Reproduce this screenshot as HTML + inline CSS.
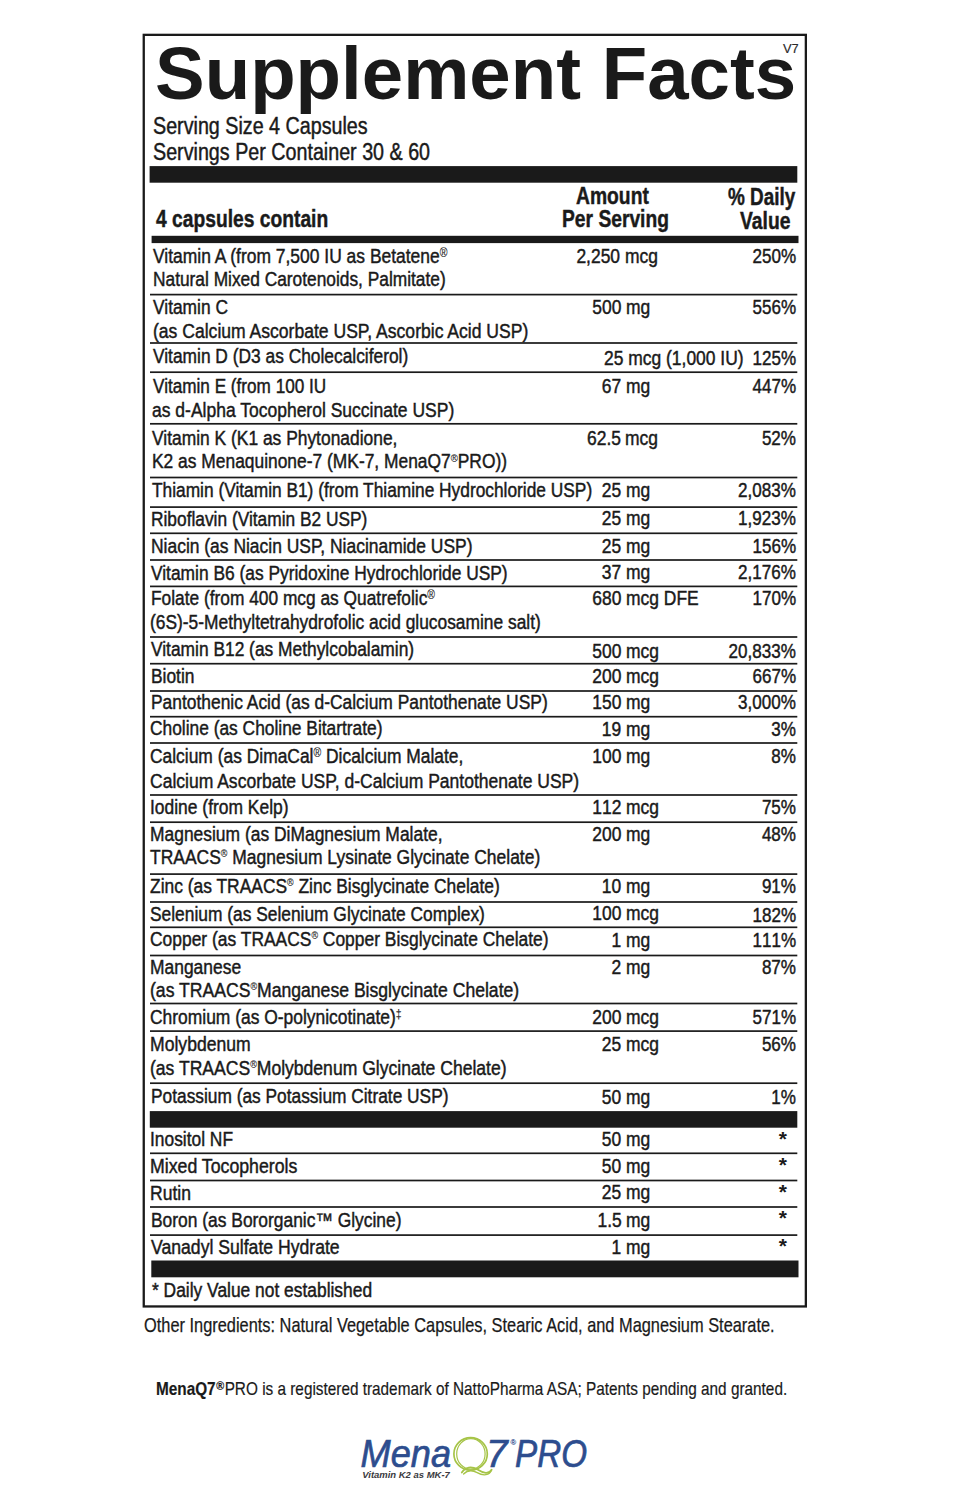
<!DOCTYPE html>
<html lang="en"><head><meta charset="utf-8"><title>Supplement Facts</title>
<style>
html,body{margin:0;padding:0;background:#fff;}
body{width:956px;height:1500px;position:relative;overflow:hidden;font-family:"Liberation Sans",sans-serif;color:#1a1a1a;}
.t{position:absolute;white-space:pre;line-height:1;margin:0;padding:0;}
.l{transform-origin:0 0;}
.rt{transform-origin:100% 0;}
.k{position:absolute;background:#1a1a1a;}
svg.lines{position:absolute;left:0;top:0;}
sup.r{font-size:.6em;line-height:0;vertical-align:baseline;position:relative;top:-.47em;-webkit-text-stroke:.12px #1a1a1a;}
sup.s{font-size:.51em;top:-.66em;}
sup.q{font-size:.55em;top:-.56em;}
sup.r2{font-size:.7em;line-height:0;vertical-align:baseline;position:relative;top:-.36em;font-weight:bold;margin:0 .04em 0 .06em;}
.b{font-size:20.0px;font-weight:normal;-webkit-text-stroke:0.45px #1a1a1a;}
.d{font-size:20.0px;font-weight:normal;-webkit-text-stroke:0.45px #1a1a1a;}
.a{font-size:21.0px;font-weight:bold;}
.h{font-size:24.5px;font-weight:bold;-webkit-text-stroke:0.45px #1a1a1a;}
.s{font-size:23.0px;font-weight:normal;-webkit-text-stroke:0.45px #1a1a1a;}
.T{font-size:75.0px;font-weight:bold;}
.v{font-size:12.0px;font-weight:normal;}
.o{font-size:20.4px;font-weight:normal;-webkit-text-stroke:0.25px #1a1a1a;}
.m{font-size:19.0px;font-weight:normal;-webkit-text-stroke:0.2px #1a1a1a;}
.d,.nk{font-kerning:none;}
</style></head>
<body>
<svg class="lines" width="956" height="1500" viewBox="0 0 956 1500">
<rect x="143.75" y="34.85" width="662.10" height="1271.60" fill="none" stroke="#1a1a1a" stroke-width="2.3"/>
<rect x="149.60" y="166.10" width="647.70" height="16.60" fill="#1a1a1a"/>
<rect x="151.60" y="235.80" width="646.90" height="7.30" fill="#1a1a1a"/>
<rect x="149.80" y="1111.10" width="647.50" height="16.60" fill="#1a1a1a"/>
<rect x="151.30" y="1260.50" width="647.20" height="16.80" fill="#1a1a1a"/>
<rect x="150.00" y="293.75" width="647.30" height="1.70" fill="#1a1a1a"/>
<rect x="150.00" y="342.15" width="647.30" height="1.70" fill="#1a1a1a"/>
<rect x="150.00" y="371.35" width="647.30" height="1.70" fill="#1a1a1a"/>
<rect x="150.00" y="422.95" width="647.30" height="1.70" fill="#1a1a1a"/>
<rect x="150.00" y="476.65" width="647.30" height="1.70" fill="#1a1a1a"/>
<rect x="150.00" y="506.25" width="647.30" height="1.70" fill="#1a1a1a"/>
<rect x="150.00" y="532.45" width="647.30" height="1.70" fill="#1a1a1a"/>
<rect x="150.00" y="559.15" width="647.30" height="1.70" fill="#1a1a1a"/>
<rect x="150.00" y="585.55" width="647.30" height="1.70" fill="#1a1a1a"/>
<rect x="150.00" y="636.15" width="647.30" height="1.70" fill="#1a1a1a"/>
<rect x="150.00" y="662.85" width="647.30" height="1.70" fill="#1a1a1a"/>
<rect x="150.00" y="690.15" width="647.30" height="1.70" fill="#1a1a1a"/>
<rect x="150.00" y="715.85" width="647.30" height="1.70" fill="#1a1a1a"/>
<rect x="150.00" y="742.15" width="647.30" height="1.70" fill="#1a1a1a"/>
<rect x="150.00" y="794.15" width="647.30" height="1.70" fill="#1a1a1a"/>
<rect x="150.00" y="821.35" width="647.30" height="1.70" fill="#1a1a1a"/>
<rect x="150.00" y="873.25" width="647.30" height="1.70" fill="#1a1a1a"/>
<rect x="150.00" y="901.15" width="647.30" height="1.70" fill="#1a1a1a"/>
<rect x="150.00" y="926.45" width="647.30" height="1.70" fill="#1a1a1a"/>
<rect x="150.00" y="954.65" width="647.30" height="1.70" fill="#1a1a1a"/>
<rect x="150.00" y="1002.65" width="647.30" height="1.70" fill="#1a1a1a"/>
<rect x="150.00" y="1030.25" width="647.30" height="1.70" fill="#1a1a1a"/>
<rect x="150.00" y="1082.35" width="647.30" height="1.70" fill="#1a1a1a"/>
<rect x="150.00" y="1152.45" width="647.30" height="1.70" fill="#1a1a1a"/>
<rect x="150.00" y="1179.65" width="647.30" height="1.70" fill="#1a1a1a"/>
<rect x="150.00" y="1206.15" width="647.30" height="1.70" fill="#1a1a1a"/>
<rect x="150.00" y="1234.25" width="647.30" height="1.70" fill="#1a1a1a"/>
</svg>
<span class="t l T" style="left:154.6px;top:36px;transform:scaleX(0.9926);">Supplement Facts</span>
<span class="t l v" style="left:783.0px;top:43px;transform:scaleX(1.07);color:#2a2a2a;-webkit-text-stroke:.15px #2a2a2a;">V7</span>
<span class="t l s" style="left:153.2px;top:115px;transform:scaleX(0.8565);">Serving Size 4 Capsules</span>
<span class="t l s" style="left:153.2px;top:141px;transform:scaleX(0.8566);">Servings Per Container 30 &amp; 60</span>
<span class="t l h" style="left:156.0px;top:207px;transform:scaleX(0.7856);">4 capsules contain</span>
<span class="t l h" style="left:575.9px;top:184px;transform:scaleX(0.7871);">Amount</span>
<span class="t l h" style="left:561.9px;top:207px;transform:scaleX(0.7855);">Per Serving</span>
<span class="t l h" style="left:727.6px;top:185px;transform:scaleX(0.7721);">% Daily</span>
<span class="t l h" style="left:740.3px;top:209px;transform:scaleX(0.788);">Value</span>
<span class="t l b" style="left:152.7px;top:246px;transform:scaleX(0.8723);">Vitamin A (from 7,500 IU as Betatene<sup class="r">&reg;</sup></span>
<span class="t l b" style="left:153.1px;top:269px;transform:scaleX(0.8661);">Natural Mixed Carotenoids, Palmitate)</span>
<span class="t rt b" style="right:335.7px;top:246px;transform:scaleX(0.872);font-kerning:none;">2,250</span>
<span class="t l b" style="left:624.6px;top:246px;transform:scaleX(0.872);">mcg</span>
<span class="t rt d" style="right:159.9px;top:246px;transform:scaleX(0.853);">250%</span>
<span class="t l b" style="left:152.7px;top:297px;transform:scaleX(0.8683);">Vitamin C</span>
<span class="t l b" style="left:152.7px;top:321px;transform:scaleX(0.8777);">(as Calcium Ascorbate USP, Ascorbic Acid USP)</span>
<span class="t rt b" style="right:334.4px;top:297px;transform:scaleX(0.872);font-kerning:none;">500</span>
<span class="t l b" style="left:625.9px;top:297px;transform:scaleX(0.872);">mg</span>
<span class="t rt d" style="right:159.9px;top:297px;transform:scaleX(0.853);">556%</span>
<span class="t l b" style="left:152.7px;top:346px;transform:scaleX(0.8676);">Vitamin D (D3 as Cholecalciferol)</span>
<span class="t l b" style="left:603.7px;top:348px;transform:scaleX(0.872);">25 mcg (1,000 IU)</span>
<span class="t rt d" style="right:159.9px;top:348px;transform:scaleX(0.853);">125%</span>
<span class="t l b" style="left:152.7px;top:376px;transform:scaleX(0.8578);">Vitamin E (from 100 IU</span>
<span class="t l b" style="left:152.4px;top:400px;transform:scaleX(0.875);">as d-Alpha Tocopherol Succinate USP)</span>
<span class="t rt b" style="right:334.4px;top:376px;transform:scaleX(0.872);font-kerning:none;">67</span>
<span class="t l b" style="left:625.9px;top:376px;transform:scaleX(0.872);">mg</span>
<span class="t rt d" style="right:159.9px;top:376px;transform:scaleX(0.853);">447%</span>
<span class="t l b" style="left:152.2px;top:428px;transform:scaleX(0.8702);">Vitamin K (K1 as Phytonadione,</span>
<span class="t l b" style="left:152.4px;top:451px;transform:scaleX(0.8696);">K2 as Menaquinone-7 (MK-7, MenaQ7<sup class="r q">&reg;</sup>PRO))</span>
<span class="t rt b" style="right:335.1px;top:428px;transform:scaleX(0.872);font-kerning:none;">62.5</span>
<span class="t l b" style="left:625.2px;top:428px;transform:scaleX(0.872);">mcg</span>
<span class="t rt d" style="right:159.9px;top:428px;transform:scaleX(0.853);">52%</span>
<span class="t l b" style="left:151.6px;top:480px;transform:scaleX(0.8659);">Thiamin (Vitamin B1) (from Thiamine Hydrochloride USP)</span>
<span class="t rt b" style="right:334.4px;top:480px;transform:scaleX(0.872);font-kerning:none;">25</span>
<span class="t l b" style="left:625.9px;top:480px;transform:scaleX(0.872);">mg</span>
<span class="t rt d" style="right:159.9px;top:480px;transform:scaleX(0.853);">2,083%</span>
<span class="t l b" style="left:151.2px;top:509px;transform:scaleX(0.8664);">Riboflavin (Vitamin B2 USP)</span>
<span class="t rt b" style="right:334.4px;top:508px;transform:scaleX(0.872);font-kerning:none;">25</span>
<span class="t l b" style="left:625.9px;top:508px;transform:scaleX(0.872);">mg</span>
<span class="t rt d" style="right:159.9px;top:508px;transform:scaleX(0.853);">1,923%</span>
<span class="t l b" style="left:151.2px;top:536px;transform:scaleX(0.872);">Niacin (as Niacin USP, Niacinamide USP)</span>
<span class="t rt b" style="right:334.4px;top:536px;transform:scaleX(0.872);font-kerning:none;">25</span>
<span class="t l b" style="left:625.9px;top:536px;transform:scaleX(0.872);">mg</span>
<span class="t rt d" style="right:159.9px;top:536px;transform:scaleX(0.853);">156%</span>
<span class="t l b" style="left:151.2px;top:563px;transform:scaleX(0.8679);">Vitamin B6 (as Pyridoxine Hydrochloride USP)</span>
<span class="t rt b" style="right:334.4px;top:562px;transform:scaleX(0.872);font-kerning:none;">37</span>
<span class="t l b" style="left:625.9px;top:562px;transform:scaleX(0.872);">mg</span>
<span class="t rt d" style="right:159.9px;top:562px;transform:scaleX(0.853);">2,176%</span>
<span class="t l b" style="left:151.0px;top:588px;transform:scaleX(0.8663);">Folate (from 400 mcg as Quatrefolic<sup class="r">&reg;</sup></span>
<span class="t l b" style="left:150.1px;top:612px;transform:scaleX(0.868);">(6S)-5-Methyltetrahydrofolic acid glucosamine salt)</span>
<span class="t rt b" style="right:334.4px;top:588px;transform:scaleX(0.872);font-kerning:none;">680</span>
<span class="t l b" style="left:625.9px;top:588px;transform:scaleX(0.872);">mcg DFE</span>
<span class="t rt d" style="right:159.9px;top:588px;transform:scaleX(0.853);">170%</span>
<span class="t l b" style="left:151.3px;top:639px;transform:scaleX(0.8681);">Vitamin B12 (as Methylcobalamin)</span>
<span class="t rt b" style="right:334.4px;top:641px;transform:scaleX(0.872);font-kerning:none;">500</span>
<span class="t l b" style="left:625.9px;top:641px;transform:scaleX(0.872);">mcg</span>
<span class="t rt d" style="right:159.9px;top:641px;transform:scaleX(0.853);">20,833%</span>
<span class="t l b" style="left:150.6px;top:666px;transform:scaleX(0.8685);">Biotin</span>
<span class="t rt b" style="right:334.4px;top:666px;transform:scaleX(0.872);font-kerning:none;">200</span>
<span class="t l b" style="left:625.9px;top:666px;transform:scaleX(0.872);">mcg</span>
<span class="t rt d" style="right:159.9px;top:666px;transform:scaleX(0.853);">667%</span>
<span class="t l b" style="left:150.6px;top:692px;transform:scaleX(0.8703);">Pantothenic Acid (as d-Calcium Pantothenate USP)</span>
<span class="t rt b" style="right:334.4px;top:692px;transform:scaleX(0.872);font-kerning:none;">150</span>
<span class="t l b" style="left:625.9px;top:692px;transform:scaleX(0.872);">mg</span>
<span class="t rt d" style="right:159.9px;top:692px;transform:scaleX(0.853);">3,000%</span>
<span class="t l b" style="left:149.7px;top:718px;transform:scaleX(0.8679);">Choline (as Choline Bitartrate)</span>
<span class="t rt b" style="right:334.4px;top:719px;transform:scaleX(0.872);font-kerning:none;">19</span>
<span class="t l b" style="left:625.9px;top:719px;transform:scaleX(0.872);">mg</span>
<span class="t rt d" style="right:159.9px;top:719px;transform:scaleX(0.853);">3%</span>
<span class="t l b" style="left:149.7px;top:746px;transform:scaleX(0.8703);">Calcium (as DimaCal<sup class="r">&reg;</sup> Dicalcium Malate,</span>
<span class="t l b" style="left:149.7px;top:771px;transform:scaleX(0.876);">Calcium Ascorbate USP, d-Calcium Pantothenate USP)</span>
<span class="t rt b" style="right:334.4px;top:746px;transform:scaleX(0.872);font-kerning:none;">100</span>
<span class="t l b" style="left:625.9px;top:746px;transform:scaleX(0.872);">mg</span>
<span class="t rt d" style="right:159.9px;top:746px;transform:scaleX(0.853);">8%</span>
<span class="t l b" style="left:149.7px;top:797px;transform:scaleX(0.8714);">Iodine (from Kelp)</span>
<span class="t rt b" style="right:334.4px;top:797px;transform:scaleX(0.872);font-kerning:none;">112</span>
<span class="t l b" style="left:625.9px;top:797px;transform:scaleX(0.872);">mcg</span>
<span class="t rt d" style="right:159.9px;top:797px;transform:scaleX(0.853);">75%</span>
<span class="t l b" style="left:150.1px;top:824px;transform:scaleX(0.8714);">Magnesium (as DiMagnesium Malate,</span>
<span class="t l b" style="left:150.1px;top:847px;transform:scaleX(0.8731);">TRAACS<sup class="r s">&reg;</sup> Magnesium Lysinate Glycinate Chelate)</span>
<span class="t rt b" style="right:334.4px;top:824px;transform:scaleX(0.872);font-kerning:none;">200</span>
<span class="t l b" style="left:625.9px;top:824px;transform:scaleX(0.872);">mg</span>
<span class="t rt d" style="right:159.9px;top:824px;transform:scaleX(0.853);">48%</span>
<span class="t l b" style="left:149.8px;top:876px;transform:scaleX(0.8706);">Zinc (as TRAACS<sup class="r s">&reg;</sup> Zinc Bisglycinate Chelate)</span>
<span class="t rt b" style="right:334.4px;top:876px;transform:scaleX(0.872);font-kerning:none;">10</span>
<span class="t l b" style="left:625.9px;top:876px;transform:scaleX(0.872);">mg</span>
<span class="t rt d" style="right:159.9px;top:876px;transform:scaleX(0.853);">91%</span>
<span class="t l b" style="left:149.7px;top:904px;transform:scaleX(0.8682);">Selenium (as Selenium Glycinate Complex)</span>
<span class="t rt b" style="right:334.4px;top:903px;transform:scaleX(0.872);font-kerning:none;">100</span>
<span class="t l b" style="left:625.9px;top:903px;transform:scaleX(0.872);">mcg</span>
<span class="t rt d" style="right:159.9px;top:905px;transform:scaleX(0.853);">182%</span>
<span class="t l b" style="left:149.7px;top:929px;transform:scaleX(0.8714);">Copper (as TRAACS<sup class="r s">&reg;</sup> Copper Bisglycinate Chelate)</span>
<span class="t rt b" style="right:334.4px;top:930px;transform:scaleX(0.872);font-kerning:none;">1</span>
<span class="t l b" style="left:625.9px;top:930px;transform:scaleX(0.872);">mg</span>
<span class="t rt d" style="right:159.9px;top:930px;transform:scaleX(0.853);">111%</span>
<span class="t l b" style="left:150.1px;top:957px;transform:scaleX(0.8714);">Manganese</span>
<span class="t l b" style="left:150.1px;top:980px;transform:scaleX(0.8799);">(as TRAACS<sup class="r s">&reg;</sup>Manganese Bisglycinate Chelate)</span>
<span class="t rt b" style="right:334.4px;top:957px;transform:scaleX(0.872);font-kerning:none;">2</span>
<span class="t l b" style="left:625.9px;top:957px;transform:scaleX(0.872);">mg</span>
<span class="t rt d" style="right:159.9px;top:957px;transform:scaleX(0.853);">87%</span>
<span class="t l b" style="left:150.1px;top:1007px;transform:scaleX(0.8708);">Chromium (as O-polynicotinate)<sup class="r">&Dagger;</sup></span>
<span class="t rt b" style="right:334.4px;top:1007px;transform:scaleX(0.872);font-kerning:none;">200</span>
<span class="t l b" style="left:625.9px;top:1007px;transform:scaleX(0.872);">mcg</span>
<span class="t rt d" style="right:159.9px;top:1007px;transform:scaleX(0.853);">571%</span>
<span class="t l b" style="left:150.3px;top:1034px;transform:scaleX(0.8792);">Molybdenum</span>
<span class="t l b" style="left:150.3px;top:1058px;transform:scaleX(0.8778);">(as TRAACS<sup class="r s">&reg;</sup>Molybdenum Glycinate Chelate)</span>
<span class="t rt b" style="right:334.4px;top:1034px;transform:scaleX(0.872);font-kerning:none;">25</span>
<span class="t l b" style="left:625.9px;top:1034px;transform:scaleX(0.872);">mcg</span>
<span class="t rt d" style="right:159.9px;top:1034px;transform:scaleX(0.853);">56%</span>
<span class="t l b" style="left:150.6px;top:1086px;transform:scaleX(0.8662);">Potassium (as Potassium Citrate USP)</span>
<span class="t rt b" style="right:334.4px;top:1087px;transform:scaleX(0.872);font-kerning:none;">50</span>
<span class="t l b" style="left:625.9px;top:1087px;transform:scaleX(0.872);">mg</span>
<span class="t rt d" style="right:159.9px;top:1087px;transform:scaleX(0.853);">1%</span>
<span class="t l b" style="left:150.3px;top:1129px;transform:scaleX(0.8686);">Inositol NF</span>
<span class="t rt b" style="right:334.4px;top:1129px;transform:scaleX(0.872);font-kerning:none;">50</span>
<span class="t l b" style="left:625.9px;top:1129px;transform:scaleX(0.872);">mg</span>
<span class="t rt a" style="right:169.0px;top:1128px;transform:scaleX(1.0);">*</span>
<span class="t l b" style="left:150.3px;top:1156px;transform:scaleX(0.8853);">Mixed Tocopherols</span>
<span class="t rt b" style="right:334.4px;top:1156px;transform:scaleX(0.872);font-kerning:none;">50</span>
<span class="t l b" style="left:625.9px;top:1156px;transform:scaleX(0.872);">mg</span>
<span class="t rt a" style="right:169.0px;top:1154px;transform:scaleX(1.0);">*</span>
<span class="t l b" style="left:150.3px;top:1183px;transform:scaleX(0.8773);">Rutin</span>
<span class="t rt b" style="right:334.4px;top:1182px;transform:scaleX(0.872);font-kerning:none;">25</span>
<span class="t l b" style="left:625.9px;top:1182px;transform:scaleX(0.872);">mg</span>
<span class="t rt a" style="right:169.0px;top:1181px;transform:scaleX(1.0);">*</span>
<span class="t l b" style="left:150.6px;top:1210px;transform:scaleX(0.87);">Boron (as Bororganic&trade; Glycine)</span>
<span class="t rt b" style="right:334.4px;top:1210px;transform:scaleX(0.872);font-kerning:none;">1.5</span>
<span class="t l b" style="left:625.9px;top:1210px;transform:scaleX(0.872);">mg</span>
<span class="t rt a" style="right:169.0px;top:1207px;transform:scaleX(1.0);">*</span>
<span class="t l b" style="left:151.3px;top:1237px;transform:scaleX(0.8807);">Vanadyl Sulfate Hydrate</span>
<span class="t rt b" style="right:334.4px;top:1237px;transform:scaleX(0.872);font-kerning:none;">1</span>
<span class="t l b" style="left:625.9px;top:1237px;transform:scaleX(0.872);">mg</span>
<span class="t rt a" style="right:169.0px;top:1235px;transform:scaleX(1.0);">*</span>
<span class="t l b" style="left:151.6px;top:1280px;transform:scaleX(0.8694);">* Daily Value not established</span>
<span class="t l o" style="left:143.8px;top:1315px;transform:scaleX(0.8028);">Other Ingredients: Natural Vegetable Capsules, Stearic Acid, and Magnesium Stearate.</span>
<span class="t l m" style="left:155.5px;top:1379px;transform:scaleX(0.807);"><b>MenaQ7</b><sup class="r2">&reg;</sup>PRO is a registered trademark of NattoPharma ASA; Patents pending and granted.</span>
<svg class="logo" width="260" height="76" viewBox="346 1424 260 76" style="position:absolute;left:346px;top:1424px;">
<g font-family="'Liberation Sans',sans-serif" font-style="italic" fill="#2d4d8e" stroke="#2d4d8e" stroke-width="0.7">
<text x="360.6" y="1466.5" font-size="39" textLength="90.5" lengthAdjust="spacingAndGlyphs">Mena</text>
<text x="486.0" y="1466.5" font-size="39.5" textLength="21.6" lengthAdjust="spacingAndGlyphs">7</text>
<text x="515.0" y="1466.5" font-size="39" textLength="72" lengthAdjust="spacingAndGlyphs">PRO</text>
<text x="510.6" y="1444.5" font-size="7.6" font-style="normal" stroke-width="0.15">&#174;</text>
</g>
<g fill="none" stroke="#a6c447" stroke-linecap="round">
<ellipse cx="470.6" cy="1453.9" rx="16.7" ry="16.2" stroke-width="1.7"/>
<ellipse cx="470.9" cy="1453.9" rx="14.2" ry="15.2" stroke-width="1.2"/>
<path d="M461.8 1472.6 C465.5 1466.8 471.5 1466.0 477.5 1469.6 C483.5 1473.4 488.8 1474.6 491.6 1469.8" stroke-width="1.8"/>
<path d="M463.6 1474.0 C467.5 1470.0 472 1469.8 477.2 1472.6 C483.2 1476.2 489.6 1475.6 491.6 1469.8" stroke-width="1.3"/>
</g>
<text x="362.3" y="1478.2" font-family="'Liberation Sans',sans-serif" font-style="italic" font-weight="bold" font-size="8.6" fill="#3a3a40" textLength="87.5" lengthAdjust="spacingAndGlyphs">Vitamin K2 as MK-7</text>
</svg>

</body></html>
